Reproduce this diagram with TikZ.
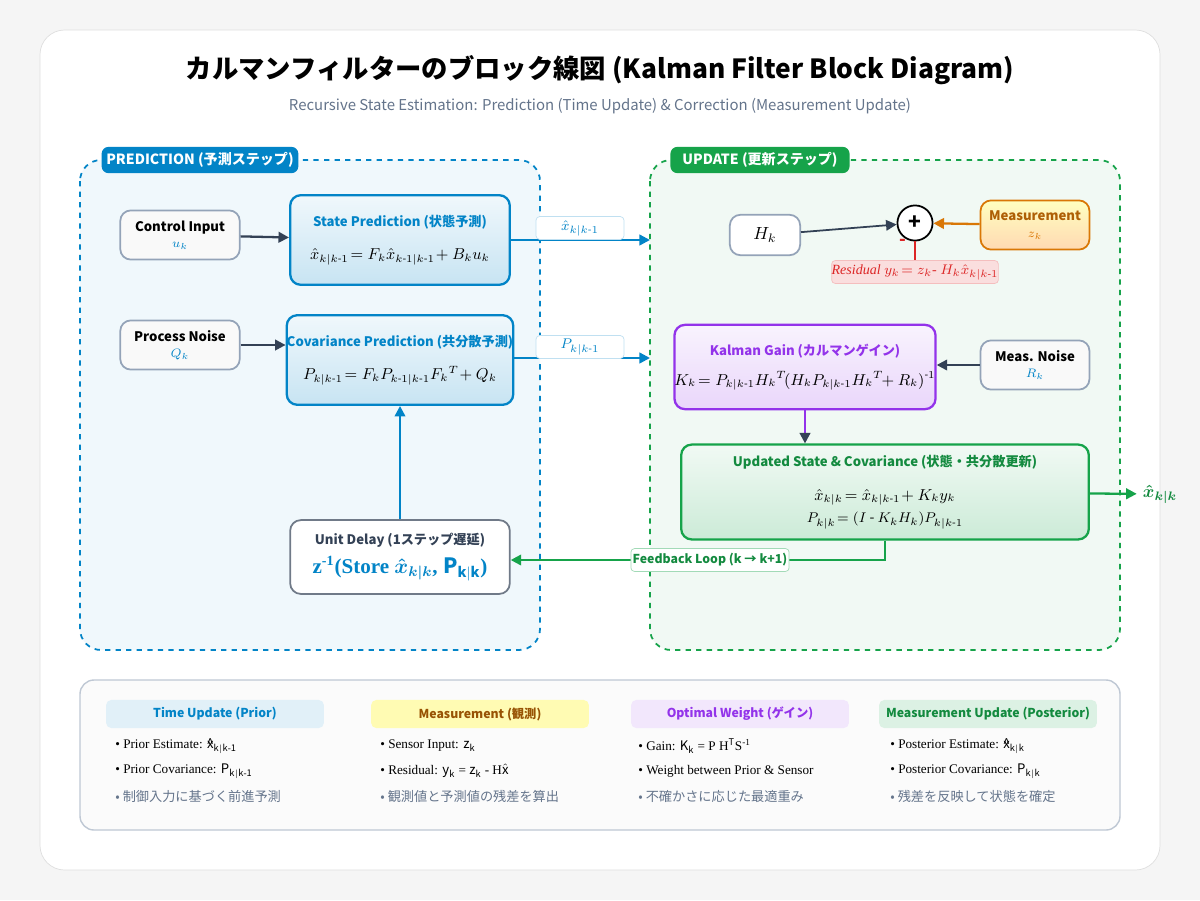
\documentclass[tikz,border=0pt]{standalone}
\usepackage{fontspec}
\usepackage{amsmath}
\setmainfont{Noto Sans CJK JP}
\newfontfamily\serifjp{Liberation Serif}
\usetikzlibrary{arrows.meta}
\usetikzlibrary{positioning}
\usetikzlibrary{backgrounds}
\definecolor{predblue}{HTML}{0284C7}
\definecolor{updgreen}{HTML}{16A34A}
\definecolor{gainpurple}{HTML}{9333EA}
\definecolor{measorange}{HTML}{D97706}
\definecolor{resred}{HTML}{DC2626}
\definecolor{inkdark}{HTML}{334155}
\definecolor{greytext}{HTML}{64748B}
\definecolor{boxgrey}{HTML}{94A3B8}

\tikzset{
  blk/.style={draw, rounded corners=6pt, line width=1.3pt, align=center, inner sep=0pt},
  inbox/.style={blk, draw=boxgrey, fill=gray!5, line width=1pt},
  tag/.style={rounded corners=4pt, text=white, font=\fontsize{8}{9}\selectfont\bfseries, inner sep=0pt},
  flow/.style={-{Triangle[length=6pt,width=6pt]}, line width=1.3pt},
  sigbox/.style={draw=predblue!25, fill=white, rounded corners=2pt, minimum width=50pt, minimum height=13pt, inner sep=0pt, text=predblue, font=\fontsize{8}{9}\selectfont},
  head/.style={rounded corners=3pt, minimum width=124pt, minimum height=16pt, font=\fontsize{7}{8}\selectfont\bfseries, inner sep=0pt},
  bul/.style={anchor=west, font=\serifjp\fontsize{7.5}{9}\selectfont, inner sep=0pt},
}

\begin{document}
\begin{tikzpicture}[x=0.02cm, y=-0.02cm]
		% card and background
		\fill[gray!8] (0,0) rectangle (1200,900);
		\draw[gray!25, fill=white, rounded corners=14pt] (40,30) rectangle (1160,870);
		\node (title) at (600,70) {\fontsize{15}{18}\selectfont\bfseries カルマンフィルターのブロック線図 (Kalman Filter Block Diagram)};
		\node[text=greytext] (subtitle) at (600,106) {\fontsize{8.5}{10}\selectfont Recursive State Estimation: Prediction (Time Update) \& Correction (Measurement Update)};

		% regions
		\draw[predblue, dashed, line width=1pt, fill=predblue!6, rounded corners=12pt] (80,160) rectangle (540,650);
		\draw[updgreen, dashed, line width=1pt, fill=updgreen!6, rounded corners=12pt] (650,160) rectangle (1120,650);
		\node[tag, fill=predblue, minimum width=112pt, minimum height=15pt] (predtag) at (200,160) {PREDICTION (予測ステップ)};
		\node[tag, fill=updgreen, minimum width=102pt, minimum height=15pt] (updtag) at (760,160) {UPDATE (更新ステップ)};

		% prediction blocks
		\begin{scope}[every node/.append style={font=\fontsize{7.5}{11}\selectfont}]
			\node[inbox, minimum width=68pt, minimum height=28pt] (ctrl) at (180,235) {\bfseries Control Input\\[-2pt] \textcolor{predblue}{$u_k$}};
			\node[inbox, minimum width=68pt, minimum height=28pt] (pnoise) at (180,345) {\bfseries Process Noise\\[-2pt] \textcolor{predblue}{$Q_k$}};
			\node[blk, draw=predblue, top color=predblue!6, bottom color=predblue!22, minimum width=125pt, minimum height=51pt] (statepred) at (400,240) {\textcolor{predblue}{\bfseries State Prediction (状態予測)}\\[8pt] \small$\hat{x}_{k|k\text{-}1}\!= F_k\hat{x}_{k\text{-}1|k\text{-}1}\!+ B_ku_k$};
			\node[blk, draw=predblue, top color=predblue!6, bottom color=predblue!22, minimum width=125pt, minimum height=51pt] (covpred) at (400,360) {\textcolor{predblue}{\bfseries Covariance Prediction (共分散予測)}\\[8pt] \small$P_{k|k\text{-}1}\!= F_kP_{k\text{-}1|k\text{-}1}F_k{}^T\!+ Q_k$};
			\node[blk, draw=inkdark!70, fill=white, line width=1pt, minimum width=125pt, minimum height=42pt] (delay) at (400,557) {\textcolor{inkdark}{\bfseries Unit Delay (1ステップ遅延)}\\[4pt] \textcolor{predblue}{\serifjp\bfseries\large z$^{\text{-1}}$(Store $\boldsymbol{\hat{x}_{k|k}}$, $\mathbf{P_{k|k}}$)}};
		\end{scope}

		% update blocks
		\begin{scope}[every node/.append style={font=\fontsize{7.5}{11}\selectfont}]
			\node[inbox, fill=white, minimum width=40pt, minimum height=23pt] (hk) at (765,235) {\normalsize$H_k$};
			\node[circle, draw=black, line width=1pt, fill=white, minimum size=20pt, inner sep=0pt] (sum) at (915,223) {\large\bfseries +};
			\node[blk, draw=measorange, top color=yellow!25, bottom color=orange!30, line width=1pt, minimum width=62pt, minimum height=28pt] (meas) at (1035,225) {\textcolor{measorange!80!black}{\bfseries Measurement}\\[-1pt] \textcolor{measorange}{$z_k$}};
			\node[draw=resred!30, fill=resred!15, rounded corners=2pt, minimum width=74pt, minimum height=13pt, inner sep=0pt, text=resred] (resid) at (915,272) {\serifjp\itshape\footnotesize Residual $y_k\!= z_k\text{- } H_k\hat{x}_{k|k\text{-}1}$};
			\node[blk, draw=gainpurple, top color=gainpurple!6, bottom color=gainpurple!20, minimum width=141pt, minimum height=48pt] (gain) at (805,367) {\textcolor{gainpurple}{\bfseries Kalman Gain (カルマンゲイン)}\\[6pt] \small$K_k\!= P_{k|k\text{-}1}H_k{}^T\!(H_kP_{k|k\text{-}1}H_k{}^T\!\!+ R_k)^{\text{-}1}$};
			\node[inbox, minimum width=62pt, minimum height=28pt] (mnoise) at (1035,365) {\bfseries Meas. Noise\\[-2pt] \textcolor{predblue}{$R_k$}};
			\node[blk, draw=updgreen, top color=updgreen!6, bottom color=updgreen!22, minimum width=232pt, minimum height=54pt] (updated) at (885,492) {\textcolor{updgreen!85!black}{\bfseries Updated State \& Covariance (状態・共分散更新)}\\[8pt] \small$\hat{x}_{k|k}\!= \hat{x}_{k|k\text{-}1}\!+ K_ky_k$\\[2pt] \footnotesize$P_{k|k}\!= (I\text{ - }K_kH_k)P_{k|k\text{-}1}$};
			\node[text=updgreen!85!black, font=\normalsize\bfseries] (xout) at (1160,494) {$\boldsymbol{\hat{x}_{k|k}}$};
		\end{scope}

		% connectors
		\draw[flow, inkdark] (ctrl) -- (statepred);
		\draw[flow, inkdark] (pnoise) -- (pnoise -| covpred.west);
		\draw[flow, predblue] (delay) -- (covpred);
		\coordinate (xin) at (650,240);
		\coordinate (pin) at (650,358);
		\draw[flow, predblue] (statepred.east |- xin) -- (xin);
		\draw[flow, predblue] (covpred.east |- pin) -- (pin);
		\node[sigbox] (xlab) at (580,228) {$\hat{x}_{k|k\text{-}1}$};
		\node[sigbox] (plab) at (580,347) {$P_{k|k\text{-}1}$};
		\draw[flow, inkdark, line width=1pt] (hk) -- (sum);
		\draw[flow, measorange] (meas) -- (sum);
		\draw[resred, line width=1.3pt] (sum) -- (resid);
		\node[text=resred, font=\bfseries] (minus) at (903,242) {-};
		\draw[flow, inkdark] (mnoise) -- (mnoise -| gain.east);
		\draw[gainpurple, line width=1.3pt, -{Triangle[length=6pt,width=6pt,fill=inkdark,color=inkdark]}] (gain) -- (gain |- updated.north);
		\draw[flow, updgreen] (updated) -- (xout);
		\coordinate (fbturn) at (885,560);
		\draw[flow, updgreen] (updated.south -| fbturn) -- (fbturn) -- (delay.east |- fbturn);
		\node[draw=updgreen!40, fill=white, rounded corners=2pt, minimum width=90pt, minimum height=13pt, inner sep=0pt, text=updgreen!85!black, font=\fontsize{7}{8}\selectfont\bfseries] (fblab) at (710,560) {Feedback Loop (k → k+1)};

		% legend panel
		\draw[boxgrey!60, fill=gray!3, rounded corners=8pt, line width=0.8pt] (80,680) rectangle (1120,830);
		\node[head, fill=predblue!12, text=predblue] (h1) at (215,714) {Time Update (Prior)};
		\node[head, fill=yellow!30, text=measorange!70!black] (h2) at (480,714) {Measurement (観測)};
		\node[head, fill=gainpurple!12, text=gainpurple] (h3) at (740,714) {Optimal Weight (ゲイン)};
		\node[head, fill=updgreen!15, text=updgreen!85!black] (h4) at (988,714) {Measurement Update (Posterior)};
		\node[bul] (b11) at (115,746) {• Prior Estimate: $\mathrm{\hat{x}_{k|k\text{-}1}}$};
		\node[bul] (b12) at (115,771) {• Prior Covariance: $\mathrm{P_{k|k\text{-}1}}$};
		\node[bul, text=greytext, font=\fontsize{7.5}{9}\selectfont] (b13) at (115,796) {• 制御入力に基づく前進予測};
		\node[bul] (b21) at (380,746) {• Sensor Input: $\mathrm{z_k}$};
		\node[bul] (b22) at (380,771) {• Residual: $\mathrm{y_k}$ = $\mathrm{z_k}$ - H$\hat{\mathrm{x}}$};
		\node[bul, text=greytext, font=\fontsize{7.5}{9}\selectfont] (b23) at (380,796) {• 観測値と予測値の残差を算出};
		\node[bul] (b31) at (638,746) {• Gain: $\mathrm{K_k}$ = P H$^{\mathrm{T}}$S$^{\text{-1}}$};
		\node[bul] (b32) at (638,771) {• Weight between Prior \& Sensor};
		\node[bul, text=greytext, font=\fontsize{7.5}{9}\selectfont] (b33) at (638,796) {• 不確かさに応じた最適重み};
		\node[bul] (b41) at (890,746) {• Posterior Estimate: $\mathrm{\hat{x}_{k|k}}$};
		\node[bul] (b42) at (890,771) {• Posterior Covariance: $\mathrm{P_{k|k}}$};
		\node[bul, text=greytext, font=\fontsize{7.5}{9}\selectfont] (b43) at (890,796) {• 残差を反映して状態を確定};
		\useasboundingbox (0,0) rectangle (1200,900);
		\end{tikzpicture}
\end{document}
